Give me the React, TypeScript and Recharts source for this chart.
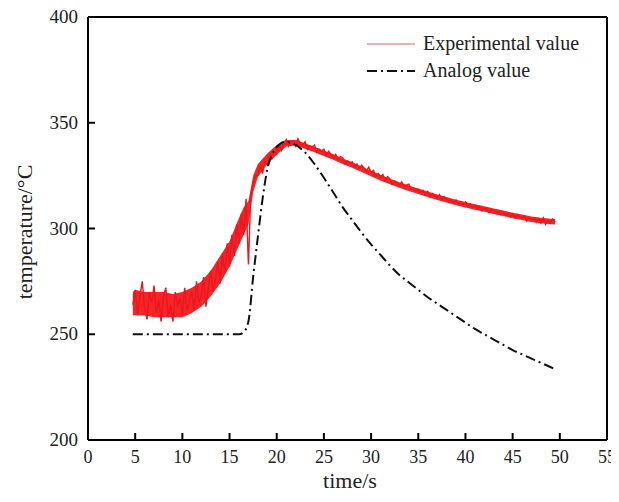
import React from 'react';
import { ComposedChart, Line, Area, XAxis, YAxis, ReferenceLine } from 'recharts';

// Experimental value, sampled every 0.25 s from t = 4.75 s
const expStart = 4.75;
const expStep = 0.25;
const expValues: number[] = [
  264,
  271, 259, 268, 275,
  262, 257, 270, 265,
  273, 260, 266, 256,
  268, 272, 258, 264,
  256, 270, 263, 267,
  259, 272, 261, 266,
  270, 261, 275, 265,
  268, 277, 263, 272,
  280, 270, 276, 284,
  274, 288, 279, 293,
  282, 297, 287, 302,
  293, 307, 297, 314,
  283, 316, 321, 325,
  325, 330, 326, 332,
  330, 335, 333, 336,
  335, 339, 337, 340,
  342, 339, 341, 341.5,
  339, 342.5, 340, 339.5,
  341, 337.5, 339, 338.5,
  339.5, 336, 337.5, 336.5,
  337.5, 334.5, 336.5, 335,
  333.5, 335, 332.5, 334,
  333.5, 330.5, 332, 331,
  331.5, 329, 330.5, 328.5,
  330, 328.5, 327, 329,
  326.5, 327.5, 325, 326,
  324.5, 325.5, 322.5, 324.5,
  323.5, 321, 322.5, 321.5,
  320.5, 322, 319.5, 320.5,
  321, 318.5, 319, 317.5,
  318.5, 317, 318, 316,
  317.5, 315, 316.5, 315.5,
  314.5, 316, 313.5, 315,
  314, 312.5, 313.5, 312,
  313.5, 311.5, 312.5, 311,
  312.5, 310.5, 311.5, 310,
  311, 309.5, 310.5, 308.5,
  309.5, 309, 307.5, 309,
  308.5, 307, 308.5, 306.5,
  307.5, 306, 307, 305.5,
  307, 305, 306.5, 305.5,
  305, 306, 303.5, 305,
  304, 305, 303, 304.5,
  302.5, 305, 302, 304,
  302.5, 304.5, 303,
];

// Dense core (min / max) of the experimental noise band
const envTimes: number[] = [4.75, 5, 6, 7, 8, 9, 10, 11, 12, 13, 14, 15, 16, 16.5, 17, 17.5, 18, 19, 20, 21, 22, 23, 24, 25, 26, 27, 28, 29, 30, 31, 32, 33, 34, 35, 36, 37, 38, 39, 40, 41, 42, 43, 44, 45, 46, 47, 48, 49, 49.5];
const envLow: number[] = [259, 259, 259, 258, 258, 258, 258, 260, 263, 268, 274, 282, 292, 297, 302, 317, 324.5, 330.5, 335, 338.8, 339.2, 337.7, 336, 334.3, 332.5, 330.5, 328.7, 326.7, 324.7, 322.7, 320.9, 319.3, 317.7, 316.3, 314.9, 313.5, 312.3, 311, 309.9, 308.9, 307.9, 306.9, 305.9, 304.9, 304, 303.1, 302.5, 302, 301.9];
const envHigh: number[] = [270, 271, 270, 270, 270, 269, 270, 272, 275, 280, 287, 294, 305, 310, 313, 325, 330.5, 335.5, 339.5, 341.8, 341.8, 340.3, 338.6, 336.9, 335.1, 333.1, 331.3, 329.3, 327.3, 325.3, 323.5, 321.9, 320.3, 318.9, 317.5, 316.1, 314.9, 313.6, 312.5, 311.5, 310.5, 309.5, 308.5, 307.5, 306.6, 305.7, 305.1, 304.6, 304.5];

// Analog value
const anaTimes: number[] = [4.75, 16, 16.5, 17, 17.5, 18, 18.5, 19, 19.5, 20, 20.5, 21, 21.5, 22, 23, 24, 25, 26, 27, 28, 29, 30, 31, 32, 33, 34, 35, 36, 37, 38, 39, 40, 41, 42, 43, 44, 45, 46, 47, 48, 49, 49.5];
const anaValues: number[] = [250, 250, 251, 256, 277, 296, 314, 328, 335, 338.5, 340.5, 341, 340.5, 339.5, 336, 330.5, 324, 317, 310, 304, 298, 292.5, 287.5, 282.5, 278, 274.5, 271, 267.5, 264.5, 261.5, 258.5, 255.5, 252.5, 250, 247.5, 245, 242.5, 240.5, 238.5, 236.5, 234.5, 233.5];

const xTicks = [0, 5, 10, 15, 20, 25, 30, 35, 40, 45, 50, 55];
const yTicks = [200, 250, 300, 350, 400];

const seriesNames = ['Experimental value', 'Analog value'];
const xTitle = 'time/s';
const yTitle = 'temperature/°C';

const expData = expValues.map((v, i) => ({ t: expStart + i * expStep, v }));
const envData = envTimes.map((t, i) => ({ t, band: [envLow[i], envHigh[i]] }));
const anaData = anaTimes.map((t, i) => ({ t, v: anaValues[i] }));

const FONT = '"Liberation Serif", "Times New Roman", serif';

const YTick = (props: any) => {
  const { x, y, payload } = props;
  return (
    <g>
      <line x1={x} y1={y} x2={x + 7} y2={y} stroke="#000" strokeWidth={2} />
      <text x={x - 10} y={y + 6} textAnchor="end" fontFamily={FONT} fontSize={19} fill="#222">
        {payload.value}
      </text>
    </g>
  );
};

const XTick = (props: any) => {
  const { x, y, payload } = props;
  return (
    <g>
      <line x1={x} y1={y} x2={x} y2={y - 7} stroke="#000" strokeWidth={2} />
      <text x={x} y={y + 23} textAnchor="middle" fontFamily={FONT} fontSize={18} fill="#222">
        {payload.value}
      </text>
    </g>
  );
};

export default function App() {
  return (
    <div style={{ position: 'relative', width: 611, height: 494, marginTop: -8 }}>
      <ComposedChart width={611} height={494} margin={{ top: 17, right: 12, left: 20, bottom: 24 }}>
        <XAxis
          type="number"
          dataKey="t"
          domain={[0, 55]}
          ticks={xTicks}
          allowDataOverflow
          tickSize={0}
          tickMargin={0}
          tickLine={false}
          axisLine={{ stroke: '#000', strokeWidth: 2 }}
          tick={<XTick />}
          height={30}
          interval={0}
        />
        <YAxis
          type="number"
          domain={[200, 400]}
          ticks={yTicks}
          allowDataOverflow
          tickSize={0}
          tickMargin={0}
          tickLine={false}
          axisLine={{ stroke: '#000', strokeWidth: 2 }}
          tick={<YTick />}
          width={60}
          interval={0}
        />
        <ReferenceLine y={400} stroke="#000" strokeWidth={2} ifOverflow="visible" />
        <ReferenceLine x={55} stroke="#000" strokeWidth={2} ifOverflow="visible" />
        <Area
          data={envData}
          dataKey="band"
          type="linear"
          stroke="none"
          fill="#f40d0d"
          fillOpacity={0.9}
          isAnimationActive={false}
          activeDot={false}
        />
        <Line
          data={expData}
          dataKey="v"
          type="linear"
          stroke="#ea1620"
          strokeWidth={1.4}
          dot={false}
          isAnimationActive={false}
        />
        <Line
          data={anaData}
          dataKey="v"
          type="monotone"
          stroke="#111"
          strokeWidth={2}
          strokeDasharray="10 4 2 4"
          dot={false}
          isAnimationActive={false}
        />
      </ComposedChart>

      {/* legend */}
      <div style={{ position: 'absolute', left: 359, top: 30, fontFamily: FONT, fontSize: 20, color: '#222', lineHeight: '27px' }}>
        <div style={{ display: 'flex', alignItems: 'center' }}>
          <svg width={50} height={10} style={{ marginRight: 6 }}>
            <line x1={0} y1={5} x2={48} y2={5} stroke="#e3b5b8" strokeWidth={2} />
          </svg>
          <span>{seriesNames[0]}</span>
        </div>
        <div style={{ display: 'flex', alignItems: 'center' }}>
          <svg width={50} height={10} style={{ marginRight: 6 }}>
            <line x1={0} y1={5} x2={48} y2={5} stroke="#111" strokeWidth={2} strokeDasharray="10 4 2 4" />
          </svg>
          <span>{seriesNames[1]}</span>
        </div>
      </div>

      {/* axis titles */}
      <div style={{ position: 'absolute', left: 292, top: 468, width: 100, textAlign: 'center', fontFamily: FONT, fontSize: 22, color: '#222', lineHeight: '26px' }}>
        {xTitle}
      </div>
      <div
        style={{
          position: 'absolute',
          left: 17 - 100,
          top: 232 - 13,
          width: 200,
          textAlign: 'center',
          fontFamily: FONT,
          fontSize: 22,
          color: '#222',
          lineHeight: '26px',
          transform: 'rotate(-90deg)',
          transformOrigin: '100px 13px',
        }}
      >
        {yTitle}
      </div>
    </div>
  );
}
